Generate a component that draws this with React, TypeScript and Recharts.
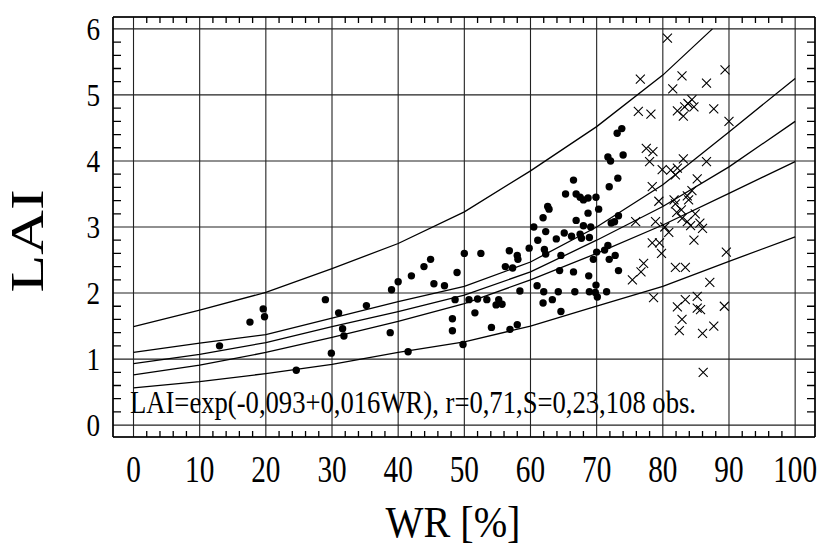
import React from 'react';
import { ScatterChart, Scatter, XAxis, YAxis, CartesianGrid } from 'recharts';

// WR [%] / LAI pairs
const measured: [number, number][] = [
  [13.0, 1.2], [17.6, 1.56], [19.6, 1.76], [19.8, 1.64], [24.6, 0.83], [29.0, 1.9],
  [31.0, 1.7], [29.9, 1.09], [31.6, 1.46], [31.8, 1.35], [35.2, 1.81], [38.8, 1.4],
  [39.0, 2.05], [40.0, 2.17], [41.5, 1.11], [42.0, 2.26], [43.9, 2.4], [44.9, 2.51],
  [45.4, 2.14], [47.0, 2.11], [48.9, 2.31], [48.6, 1.9], [48.2, 1.61], [48.2, 1.43],
  [50.0, 2.6], [49.8, 1.22], [50.7, 1.9], [51.6, 1.7], [52.0, 1.91], [52.5, 2.6],
  [53.4, 1.9], [54.1, 1.48], [55.2, 1.9], [54.8, 1.82], [55.7, 1.83], [56.2, 2.4],
  [56.8, 2.64], [57.3, 2.38], [56.9, 1.45], [58.0, 2.57], [58.1, 2.51], [58.0, 1.52],
  [58.4, 2.03], [59.8, 2.68], [60.5, 3.0], [61.1, 2.8], [61.0, 2.11], [61.9, 3.14],
  [62.0, 2.02], [61.9, 1.85], [62.1, 2.66], [62.3, 2.59], [62.3, 2.93], [62.6, 3.31],
  [62.8, 3.27], [63.3, 1.9], [63.9, 2.82], [64.2, 2.02], [64.4, 2.34], [64.6, 2.57],
  [64.6, 1.72], [65.1, 2.91], [65.3, 3.5], [66.2, 2.86], [66.5, 3.71], [66.5, 2.32],
  [66.7, 2.02], [66.9, 3.5], [66.9, 3.1], [67.5, 3.45], [68.0, 3.41], [67.5, 2.89],
  [67.7, 2.83], [68.0, 3.02], [68.7, 3.21], [68.7, 3.44], [68.8, 2.26], [68.9, 2.02],
  [68.9, 2.84], [69.1, 3.0], [69.5, 2.51], [69.9, 2.12], [69.9, 3.45], [70.0, 2.62],
  [69.8, 2.01], [70.1, 1.94], [70.3, 3.27], [71.2, 2.65], [71.7, 2.72], [71.5, 2.02],
  [71.9, 2.51], [71.7, 4.06], [72.1, 4.0], [71.9, 3.61], [72.2, 3.06], [72.7, 3.08],
  [72.8, 2.57], [73.1, 4.42], [73.8, 4.49], [73.2, 3.74], [73.3, 3.17], [73.3, 2.34],
  [74.0, 4.09],
];

// points marked with x (outside the fit)
const excluded: [number, number][] = [
  [80.7, 5.86], [76.6, 5.24], [82.9, 5.29], [81.5, 5.09], [86.6, 5.18], [89.4, 5.38],
  [84.4, 4.93], [83.8, 4.87], [83.3, 4.82], [84.7, 4.82], [82.2, 4.76], [83.1, 4.68],
  [87.7, 4.79], [76.3, 4.75], [78.2, 4.71], [90.0, 4.6], [77.5, 4.19], [78.5, 4.14],
  [78.0, 3.99], [83.1, 4.03], [86.6, 3.99], [79.9, 3.87], [81.2, 3.86], [82.2, 3.89],
  [81.9, 3.79], [85.2, 3.73], [78.4, 3.61], [79.4, 3.39], [81.7, 3.41], [81.9, 3.35],
  [83.7, 3.47], [83.9, 3.41], [84.4, 3.55], [82.1, 3.22], [82.9, 3.13], [83.7, 3.08],
  [84.9, 3.2], [85.6, 3.06], [84.7, 2.8], [86.0, 2.98], [75.9, 3.08], [78.9, 3.08],
  [80.3, 3.0], [80.9, 2.92], [78.4, 2.76], [79.5, 2.76], [79.8, 2.6], [89.6, 2.62],
  [77.1, 2.45], [76.7, 2.32], [75.4, 2.2], [81.9, 2.39], [83.4, 2.39], [87.1, 2.16],
  [78.6, 1.93], [83.4, 1.9], [85.2, 1.95], [82.2, 1.79], [85.2, 1.77], [85.7, 1.75],
  [89.3, 1.8], [82.9, 1.6], [82.5, 1.43], [86.0, 1.39], [87.7, 1.5], [86.1, 0.8],
  [84.2, 3.02], [82.8, 3.26],
];

// curves, read every 10 %
const curveWR = [0, 10, 20, 30, 40, 50, 60, 70, 80, 90, 100];
const upperPredWR = [0, 10, 20, 30, 40, 50, 60, 70, 80, 87.5];
const upperPred = [1.49, 1.74, 2.01, 2.37, 2.75, 3.23, 3.85, 4.52, 5.3, 6.0];
const upperConf = [1.1, 1.24, 1.37, 1.62, 1.87, 2.1, 2.47, 3.0, 3.64, 4.44, 5.25];
const fitted = [0.93, 1.07, 1.25, 1.49, 1.72, 1.97, 2.32, 2.8, 3.31, 3.91, 4.6];
const lowerConf = [0.76, 0.91, 1.1, 1.33, 1.57, 1.84, 2.2, 2.6, 3.03, 3.51, 3.99];
const lowerPred = [0.565, 0.66, 0.78, 0.92, 1.1, 1.26, 1.5, 1.8, 2.1, 2.48, 2.85];

const xTicks = [0, 10, 20, 30, 40, 50, 60, 70, 80, 90, 100];
const yTicks = [0, 1, 2, 3, 4, 5, 6];
const xMinor = Array.from({ length: 50 }, (_, i) => i * 2).filter((v) => v % 10 !== 0);
const yMinor = Array.from({ length: 30 }, (_, i) => +(i * 0.2).toFixed(1)).filter((v) => !Number.isInteger(v));

const FONT = '"Liberation Serif", "Times New Roman", serif';
const W = 817;
const H = 547;
const M_TOP = 17;
const M_RIGHT = 2;
const Y_AXIS_W = 113;
const X_AXIS_H = 110;
const PLOT_W = W - Y_AXIS_W - M_RIGHT;
const PLOT_H = H - M_TOP - X_AXIS_H;
const X_DOMAIN: [number, number] = [-3.1, 103];
const Y_DOMAIN: [number, number] = [-0.18, 6.18];

// frame positions of the minor marks (same domain as the axes)
const frameX = (v: number) => Y_AXIS_W + ((v - X_DOMAIN[0]) / (X_DOMAIN[1] - X_DOMAIN[0])) * PLOT_W;
const frameY = (v: number) => M_TOP + ((Y_DOMAIN[1] - v) / (Y_DOMAIN[1] - Y_DOMAIN[0])) * PLOT_H;

const toPoints = (pairs: [number, number][]) => pairs.map(([x, y]) => ({ x, y }));
const toCurve = (xs: number[], ys: number[]) => xs.map((x, i) => ({ x, y: ys[i] }));

const DotShape = (p: any) => <circle cx={p.cx} cy={p.cy} r={3.7} fill="#000" />;

const CrossShape = (p: any) => {
  const s = 4.5;
  return (
    <path
      d={`M${p.cx - s},${p.cy - s}L${p.cx + s},${p.cy + s}M${p.cx - s},${p.cy + s}L${p.cx + s},${p.cy - s}`}
      stroke="#000"
      strokeWidth={1.1}
      fill="none"
    />
  );
};

const NoShape = () => <g />;

const XTick = ({ x, y, payload }: any) => (
  <text
    transform={`translate(${x},${y + 45}) scale(0.77,1)`}
    textAnchor="middle"
    fontFamily={FONT}
    fontSize={38}
    fill="#000"
  >
    {payload.value}
  </text>
);

const YTick = ({ x, y, payload }: any) => (
  <text
    transform={`translate(${x - 13},${y + 11}) scale(0.85,1)`}
    textAnchor="end"
    fontFamily={FONT}
    fontSize={32}
    fill="#000"
  >
    {payload.value}
  </text>
);

const curves = [
  toCurve(upperPredWR, upperPred),
  toCurve(curveWR, upperConf),
  toCurve(curveWR, fitted),
  toCurve(curveWR, lowerConf),
  toCurve(curveWR, lowerPred),
];

const minorPath = [
  ...xMinor.map((v) => {
    const px = frameX(v);
    return `M${px},${M_TOP}V${M_TOP + 6}M${px},${M_TOP + PLOT_H}V${M_TOP + PLOT_H - 6}`;
  }),
  ...yMinor.map((v) => {
    const py = frameY(v);
    return `M${Y_AXIS_W},${py}H${Y_AXIS_W + 8}M${Y_AXIS_W + PLOT_W},${py}H${Y_AXIS_W + PLOT_W - 8}`;
  }),
].join('');

export default function App() {
  return (
    <div style={{ position: 'absolute', left: 0, top: 0, width: W, height: H, background: '#fff' }}>
      <ScatterChart width={W} height={H} margin={{ top: M_TOP, right: M_RIGHT, left: 0, bottom: 0 }}>
        <CartesianGrid xAxisId="main" yAxisId="main" stroke="#222" strokeWidth={1.1} />
        <XAxis
          xAxisId="main"
          type="number"
          dataKey="x"
          domain={X_DOMAIN}
          allowDataOverflow
          ticks={xTicks}
          interval={0}
          height={X_AXIS_H}
          tickLine={false}
          tickSize={0}
          tickMargin={0}
          tick={<XTick />}
          axisLine={{ stroke: '#000', strokeWidth: 1.5 }}
        />
        <XAxis
          xAxisId="top"
          orientation="top"
          type="number"
          domain={X_DOMAIN}
          allowDataOverflow
          ticks={xTicks}
          mirror
          tick={false}
          tickLine={false}
          axisLine={{ stroke: '#000', strokeWidth: 1.5 }}
        />
        <YAxis
          yAxisId="main"
          type="number"
          dataKey="y"
          domain={Y_DOMAIN}
          allowDataOverflow
          ticks={yTicks}
          interval={0}
          width={Y_AXIS_W}
          tickLine={false}
          tickSize={0}
          tickMargin={0}
          tick={<YTick />}
          axisLine={{ stroke: '#000', strokeWidth: 1.5 }}
        />
        <YAxis
          yAxisId="right"
          orientation="right"
          type="number"
          domain={Y_DOMAIN}
          allowDataOverflow
          ticks={yTicks}
          mirror
          tick={false}
          tickLine={false}
          axisLine={{ stroke: '#000', strokeWidth: 1.5 }}
        />
        {curves.map((c, i) => (
          <Scatter
            key={i}
            xAxisId="main"
            yAxisId="main"
            data={c}
            line={{ stroke: '#000', strokeWidth: 1.3 }}
            shape={NoShape}
            isAnimationActive={false}
          />
        ))}
        <Scatter
          xAxisId="main"
          yAxisId="main"
          data={toPoints(measured)}
          shape={DotShape}
          isAnimationActive={false}
        />
        <Scatter
          xAxisId="main"
          yAxisId="main"
          data={toPoints(excluded)}
          shape={CrossShape}
          isAnimationActive={false}
        />
      </ScatterChart>
      <svg
        width={W}
        height={H}
        style={{ position: 'absolute', left: 0, top: 0, pointerEvents: 'none' }}
      >
        <path d={minorPath} stroke="#000" strokeWidth={1.3} fill="none" />
        <text
          x={130}
          y={413}
          fontFamily={FONT}
          fontSize={32}
          textLength={566}
          lengthAdjust="spacingAndGlyphs"
          fill="#000"
        >
          LAI=exp(-0,093+0,016WR), r=0,71,S=0,23,108 obs.
        </text>
        <text
          x={453}
          y={537}
          textAnchor="middle"
          fontFamily={FONT}
          fontSize={45}
          textLength={135}
          lengthAdjust="spacingAndGlyphs"
          fill="#000"
        >
          WR [%]
        </text>
        <text
          transform="translate(43,241) rotate(-90)"
          textAnchor="middle"
          fontFamily={FONT}
          fontSize={47}
          textLength={103}
          lengthAdjust="spacingAndGlyphs"
          fill="#000"
        >
          LAI
        </text>
      </svg>
    </div>
  );
}
